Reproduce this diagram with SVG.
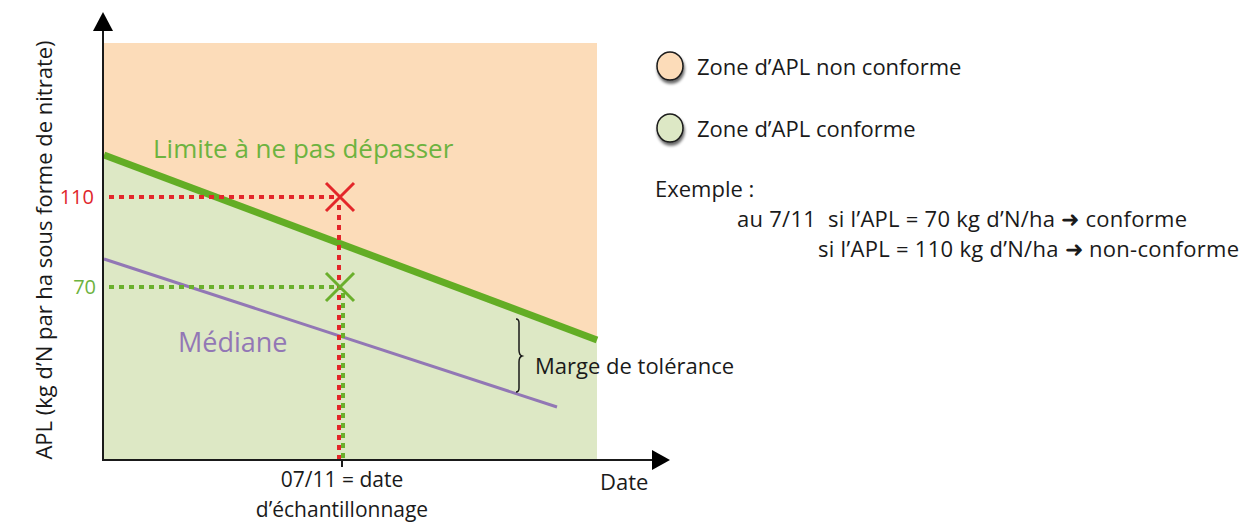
<svg xmlns="http://www.w3.org/2000/svg" width="1243" height="524" viewBox="0 0 1243 524">
<defs>
<style>
text{font-family:"Open Sans","Noto Sans","Liberation Sans",sans-serif;fill:#1a1a1a}
.lg{font-size:22px}
.red{fill:#e0262b}
.grn{fill:#6db33f}
.axis{stroke:#1a1a1a;stroke-width:2;fill:none}
.dotr{stroke:#e3262a;stroke-width:4;stroke-dasharray:5 5;fill:none}
.dotg{stroke:#6aaf2c;stroke-width:4;stroke-dasharray:5 5;fill:none}
</style>
<filter id="sh" x="-50%" y="-50%" width="200%" height="200%">
<feGaussianBlur in="SourceAlpha" stdDeviation="1.5"/>
<feOffset dx="1" dy="3"/>
<feComponentTransfer><feFuncA type="linear" slope="0.6"/></feComponentTransfer>
<feMerge><feMergeNode/><feMergeNode in="SourceGraphic"/></feMerge>
</filter>
</defs>
<rect width="1243" height="524" fill="#ffffff"/>
<g id="zones">
<polygon points="103,43 597,43 597,340 103,155" fill="#fcdcb9"/>
<polygon points="103,155 597,340 597,460 103,460" fill="#dde8c5"/>
</g>
<g id="lines">
<line x1="104" y1="155" x2="597" y2="340" stroke="#63ad25" stroke-width="7"/>
<line x1="104" y1="259" x2="557" y2="407" stroke="#9277b5" stroke-width="3"/>
</g>
<g id="connectors">
<line class="dotr" x1="109" y1="197" x2="334" y2="197"/>
<line class="dotr" x1="339" y1="205" x2="339" y2="460"/>
<line class="dotg" x1="109" y1="287" x2="334" y2="287"/>
<line class="dotg" x1="343" y1="293" x2="343" y2="460"/>
<path d="M326,183 L354,211 M354,183 L326,211" stroke="#e3262a" stroke-width="3" fill="none"/>
<path d="M326,273 L354,301 M354,273 L326,301" stroke="#6aaf2c" stroke-width="3" fill="none"/>
<path d="M516,319 q3,0 3,4 v27 q0,5 3,6 q-3,1 -3,6 v26 q0,4 -3,4" stroke="#1a1a1a" stroke-width="1.5" fill="none"/>
</g>
<g id="axes">
<line class="axis" x1="103" y1="461" x2="103" y2="28"/>
<polygon points="103,12 93,31 113,31" fill="#000"/>
<line class="axis" x1="102" y1="460" x2="654" y2="460"/>
<polygon points="670,460 652,450 652,470" fill="#000"/>
<line class="axis" x1="342" y1="460" x2="342" y2="467"/>
</g>
<g id="labels">
<text class="red" x="94" y="204" font-size="20" text-anchor="end">110</text>
<text class="grn" x="96" y="294" font-size="20" text-anchor="end">70</text>
<text class="grn" x="153" y="158" font-size="26">Limite à ne pas dépasser</text>
<text x="178" y="352" font-size="27" style="fill:#9277b5">Médiane</text>
<text x="535" y="374" font-size="22">Marge de tolérance</text>
<text x="342" y="487" font-size="21" text-anchor="middle">07/11 = date</text>
<text x="342" y="517" font-size="21" text-anchor="middle">d’échantillonnage</text>
<text x="600" y="490" font-size="22">Date</text>
<text transform="translate(52,250) rotate(-90)" font-size="22" text-anchor="middle">APL (kg d’N par ha sous forme de nitrate)</text>
</g>
<g id="legend-nonconforme">
<ellipse cx="670" cy="66" rx="13" ry="14" fill="#fcdcb9" stroke="#1a1a1a" stroke-width="1.5" filter="url(#sh)"/>
<text class="lg" x="697" y="75">Zone d’APL non conforme</text>
</g>
<g id="legend-conforme">
<ellipse cx="670" cy="128" rx="13" ry="14" fill="#dde8c5" stroke="#1a1a1a" stroke-width="1.5" filter="url(#sh)"/>
<text class="lg" x="697" y="137">Zone d’APL conforme</text>
</g>
<g id="example">
<text class="lg" x="655" y="197">Exemple :</text>
<text class="lg" x="737" y="227" xml:space="preserve" textLength="450" lengthAdjust="spacing">au 7/11  si l’APL = 70 kg d’N/ha ➜ conforme</text>
<text class="lg" x="818" y="257" textLength="421" lengthAdjust="spacing">si l’APL = 110 kg d’N/ha ➜ non-conforme</text>
</g>
</svg>
